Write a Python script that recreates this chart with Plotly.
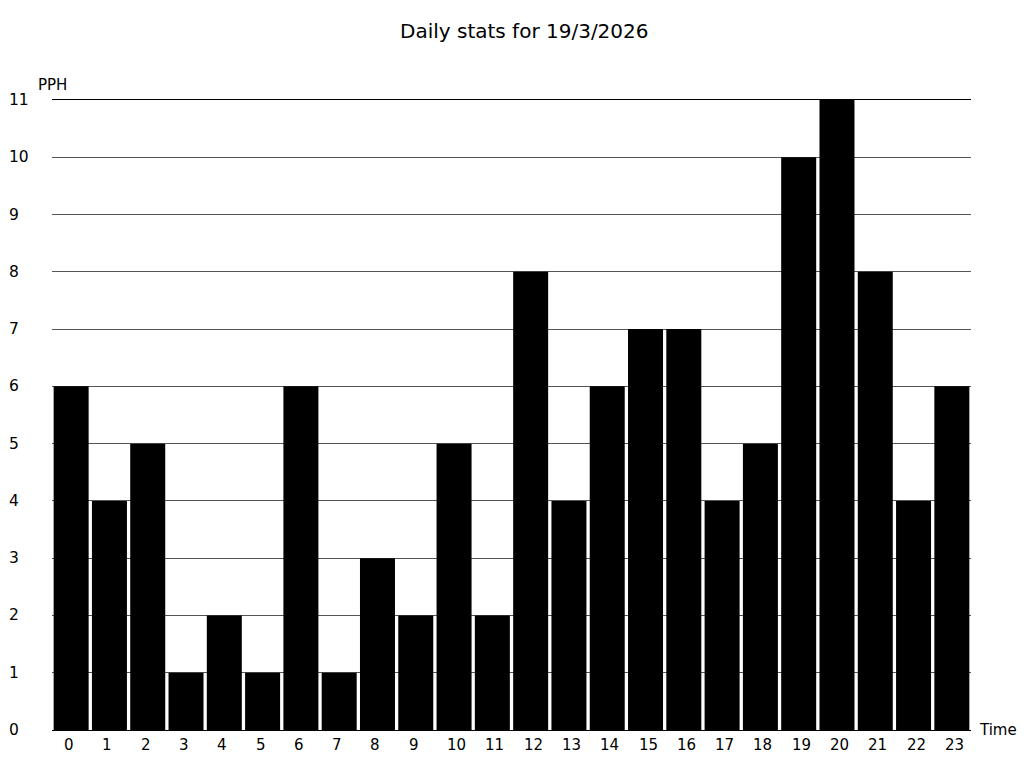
import plotly.graph_objects as go

hours = [str(h) for h in range(24)]
pph = [6, 4, 5, 1, 2, 1, 6, 1, 3, 2, 5, 2, 8, 4, 6, 7, 7, 4, 5, 10, 11, 8, 4, 6]
y_ticks = list(range(0, 12))

W, H = 1024, 768
L, R, T, B = 52, 53, 100, 38
FONT = "DejaVu Sans"

fig = go.Figure()
fig.add_trace(go.Bar(
    x=hours,
    y=pph,
    marker=dict(color="black", line=dict(width=0)),
    showlegend=False,
))

# y tick labels are left aligned in the reference, so draw them as annotations
pw = W - L - R
for v in y_ticks:
    fig.add_annotation(
        x=(7 - L) / pw, xref="paper", y=v, yref="y",
        text=str(v), showarrow=False, xanchor="left", yanchor="middle",
        font=dict(family=FONT, size=15.5, color="black"),
    )

# x tick labels start a little left of each bar centre
for h in hours:
    fig.add_annotation(
        x=h, xref="x", y=0, yref="paper",
        text=h, showarrow=False, xanchor="left", yanchor="top",
        xshift=-9, yshift=-4,
        font=dict(family=FONT, size=15, color="black"),
    )

fig.add_annotation(
    x=(36 - L) / pw, xref="paper", y=1, yref="paper",
    text="PPH", showarrow=False, xanchor="left", yanchor="bottom", yshift=4,
    font=dict(family=FONT, size=15, color="black"),
)
fig.add_annotation(
    x=1, xref="paper", y=0, yref="paper",
    text="Time", showarrow=False, xanchor="left", yanchor="middle", xshift=6,
    font=dict(family=FONT, size=15, color="black"),
)

fig.update_layout(
    width=W, height=H,
    margin=dict(l=L, r=R, t=T, b=B),
    paper_bgcolor="white",
    plot_bgcolor="white",
    font=dict(family=FONT, size=15, color="black"),
    title=dict(text="Daily stats for 19/3/2026", x=0.512, xanchor="center",
               y=1 - 31 / H, yanchor="middle",
               font=dict(family=FONT, size=20, color="black")),
    bargap=0.086,
    xaxis=dict(
        type="category",
        showgrid=False,
        showline=True, linecolor="black", linewidth=1, mirror=True,
        ticks="", showticklabels=False,
        zeroline=False,
    ),
    yaxis=dict(
        range=[0, 11],
        tickvals=y_ticks,
        showticklabels=False,
        showgrid=True, gridcolor="#555555", gridwidth=1,
        zeroline=False,
        showline=False,
        ticks="",
    ),
)

fig.write_html("out.html", config={"displayModeBar": False},
               post_script="document.body.style.margin='0';")
